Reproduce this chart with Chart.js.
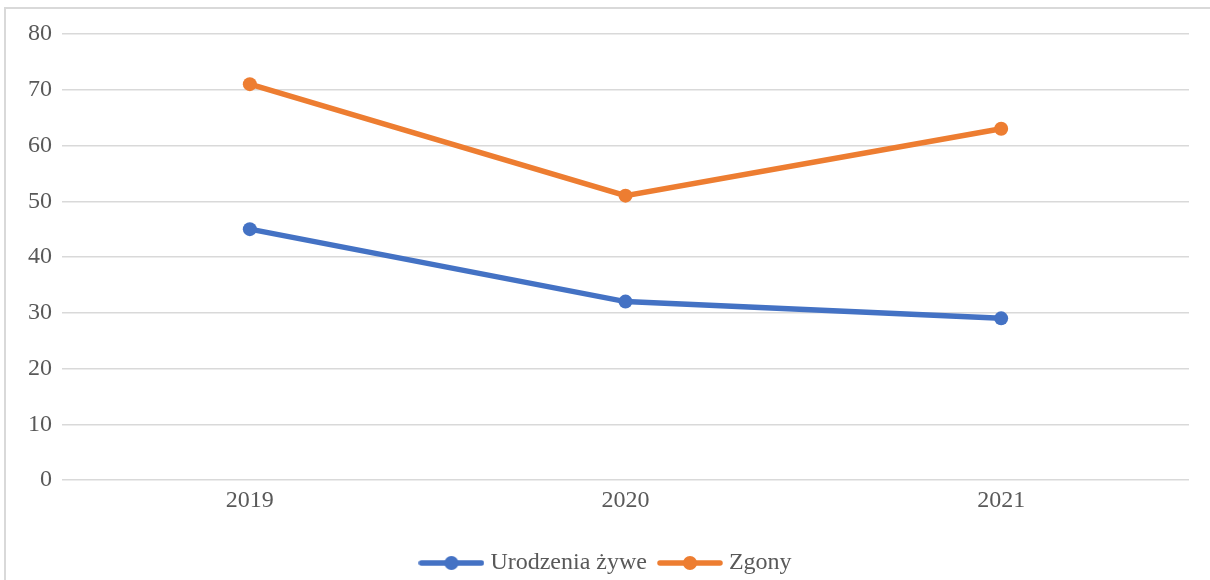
<!DOCTYPE html>
<html>
<head>
<meta charset="utf-8">
<script src="https://cdn.jsdelivr.net/npm/chart.js@4/dist/chart.umd.min.js"></script>
<style>
  html, body { margin: 0; padding: 0; background: #ffffff; overflow: hidden; }
  #wrap { position: relative; width: 1210px; height: 580px; }
  #frame { position: absolute; left: 4px; top: 7px; width: 1220px; height: 620px; border: 2px solid #d9d9d9; box-sizing: border-box; }
  canvas { position: absolute; left: 0; top: 0; }
</style>
</head>
<body>
<div id="wrap">
  <div id="frame"></div>
  <canvas id="c" width="1210" height="580"></canvas>
</div>
<script>
const categories = ['2019', '2020', '2021'];
const births = [45, 32, 29];
const deaths = [71, 51, 63];
const seriesNames = ['Urodzenia żywe', 'Zgony'];
const yTicks = [0, 10, 20, 30, 40, 50, 60, 70, 80];

const BLUE = '#4472C4';
const ORANGE = '#ED7D31';
const TXT = '#595959';
const FONT = "'Liberation Serif', 'Times New Roman', serif";

function marker(color) {
  const c = document.createElement('canvas');
  c.width = 66; c.height = 16;
  const g = c.getContext('2d');
  g.strokeStyle = color; g.lineWidth = 5.5; g.lineCap = 'round';
  g.beginPath(); g.moveTo(3, 8); g.lineTo(63, 8); g.stroke();
  g.fillStyle = color;
  g.beginPath(); g.arc(33, 8, 7, 0, Math.PI * 2); g.fill();
  return c;
}
const markers = [marker(BLUE), marker(ORANGE)];

new Chart(document.getElementById('c'), {
  type: 'line',
  data: {
    labels: categories,
    datasets: [
      { label: seriesNames[0], data: births, borderColor: BLUE, backgroundColor: BLUE,
        borderWidth: 5.5, pointRadius: 7, pointHoverRadius: 7, pointBorderWidth: 0, tension: 0, borderCapStyle: 'round' },
      { label: seriesNames[1], data: deaths, borderColor: ORANGE, backgroundColor: ORANGE,
        borderWidth: 5.5, pointRadius: 7, pointHoverRadius: 7, pointBorderWidth: 0, tension: 0, borderCapStyle: 'round' }
    ]
  },
  options: {
    responsive: false,
    animation: false,
    layout: { padding: { left: 27, right: 21, top: 34, bottom: -5 } },
    plugins: {
      tooltip: { enabled: false },
      legend: {
        position: 'bottom',
        labels: {
          usePointStyle: true,
          pointStyleWidth: 54,
          padding: 16,
          color: TXT,
          font: { family: FONT, size: 24 },
          generateLabels(chart) {
            const items = Chart.defaults.plugins.legend.labels.generateLabels(chart);
            items.forEach((it, i) => { it.pointStyle = markers[i]; });
            return items;
          }
        }
      }
    },
    scales: {
      x: {
        offset: true,
        grid: { display: false, drawTicks: false },
        border: { display: false },
        ticks: { color: TXT, font: { family: FONT, size: 24 }, padding: 6 },
        afterFit(s) { s.height = 55; }
      },
      y: {
        min: 0, max: 80,
        afterBuildTicks(s) { s.ticks = yTicks.map(v => ({ value: v })); },
        grid: { color: '#d9d9d9', lineWidth: 1.5, drawTicks: false },
        border: { display: false },
        ticks: { color: TXT, font: { family: FONT, size: 24 }, padding: 10 },
        afterFit(s) { s.width = 35; }
      }
    }
  }
});
</script>
</body>
</html>
